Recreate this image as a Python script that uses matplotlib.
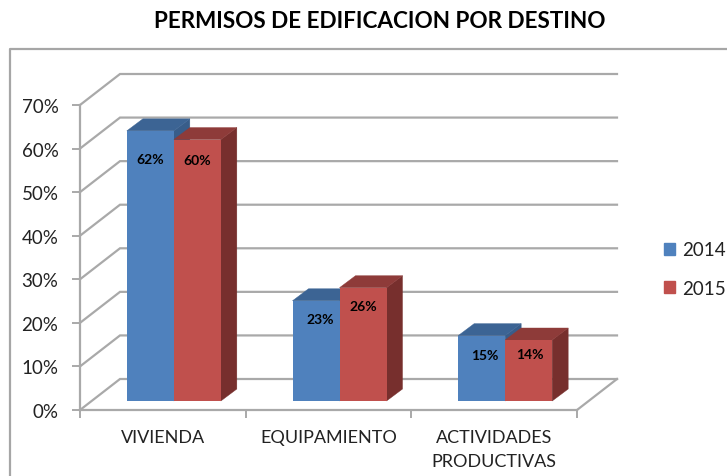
import numpy as np
import matplotlib
matplotlib.use("Agg")
import matplotlib.pyplot as plt
from matplotlib.lines import Line2D
from matplotlib.patches import Patch, Polygon

categories = ["VIVIENDA", "EQUIPAMIENTO", "ACTIVIDADES\nPRODUCTIVAS"]
years = ["2014", "2015"]
values_2014 = [62, 23, 15]
values_2015 = [60, 26, 14]
y_ticks = [0, 10, 20, 30, 40, 50, 60, 70]

plt.rcParams["font.family"] = "Lato"

W, H = 727, 477
fig = plt.figure(figsize=(W / 100, H / 100), dpi=100)
ax = fig.add_axes([80 / W, 1 - 411 / H, 497 / W, 305 / H])
ax.set_xlim(0, 3)
ax.set_ylim(0, 70)

# pixels to data units, the fake 3d is all offsets
px_x = 3 / 497
px_y = 70 / 305
wall_dx, wall_dy = 40 * px_x, 31 * px_y
base_dx, base_dy = 11 * px_x, 9 * px_y
depth_dx, depth_dy = 16 * px_x, 12 * px_y
bar_w = 47 * px_x

grid_c = "#a9a9a9"
text_c = "#222222"

# walls
for t in y_ticks:
    ax.plot([0, wall_dx, 3 + wall_dx], [t, t + wall_dy, t + wall_dy], color=grid_c, lw=1.6,
            clip_on=False, zorder=1, solid_joinstyle="miter")
ax.plot([3, 3 + wall_dx], [0, wall_dy], color=grid_c, lw=1.6, clip_on=False, zorder=1)


def draw_bars(centers, vals, face, top, side, z):
    ax.bar(centers, vals, bar_w, bottom=base_dy, color=face, zorder=z + 0.5)
    for c, v in zip(centers, vals):
        x0, x1 = c - bar_w / 2, c + bar_w / 2
        y1 = base_dy + v
        ax.add_patch(Polygon([(x0, y1), (x1, y1), (x1 + depth_dx, y1 + depth_dy), (x0 + depth_dx, y1 + depth_dy)],
                             closed=True, fc=top, ec=top, lw=0.3, zorder=z + 0.1, clip_on=False))
        ax.add_patch(Polygon([(x1, base_dy), (x1, y1), (x1 + depth_dx, y1 + depth_dy), (x1 + depth_dx, base_dy + depth_dy)],
                             closed=True, fc=side, ec=side, lw=0.3, zorder=z, clip_on=False))


x = np.arange(3) + 0.5 + base_dx
draw_bars(x - bar_w / 2, values_2014, "#4f81bd", "#3c6494", "#385d8a", 2)
# red comes second so it sits over the blue side
draw_bars(x + bar_w / 2, values_2015, "#c0504d", "#8e3b39", "#772f2d", 3)

# data labels, nudged by hand in pixels like the original
nudge_2014 = [(0, -28), (4, -18), (3, -19)]
nudge_2015 = [(0, -20), (0, -18), (1, -14)]
for c, v, n in zip(x - bar_w / 2, values_2014, nudge_2014):
    ax.annotate(f"{v}%", (c, base_dy + v), xytext=(n[0] * 0.72, n[1] * 0.72), textcoords="offset points",
                ha="center", va="center", fontsize=10, fontweight="bold", color="black", zorder=7)
for c, v, n in zip(x + bar_w / 2, values_2015, nudge_2015):
    ax.annotate(f"{v}%", (c, base_dy + v), xytext=(n[0] * 0.72, n[1] * 0.72), textcoords="offset points",
                ha="center", va="center", fontsize=10, fontweight="bold", color="black", zorder=7)

# axes
for s in ["top", "right"]:
    ax.spines[s].set_visible(False)
for s in ["left", "bottom"]:
    ax.spines[s].set_color(grid_c)
    ax.spines[s].set_linewidth(1.6)
ax.patch.set_alpha(0)
ax.set_yticks(y_ticks)
ax.set_yticklabels([f"{t}%" for t in y_ticks], fontsize=13.5, color=text_c)
ax.tick_params(axis="y", length=5.5, width=1.4, color=grid_c, pad=10)
ax.set_xticks([0, 1, 2, 3])
ax.set_xticklabels([])
ax.tick_params(axis="x", length=5.5, width=1.4, color=grid_c)
ax.set_xticks([0.5, 1.5, 2.5], minor=True)
ax.set_xticklabels(categories, minor=True, fontsize=13, color=text_c, linespacing=1.6)
ax.tick_params(axis="x", which="minor", length=0, pad=14)

handles = [Patch(color="#4f81bd", label=years[0]), Patch(color="#c0504d", label=years[1])]
fig.legend(handles=handles, loc="center left", bbox_to_anchor=(664 / W, 1 - 270 / H), frameon=False,
           fontsize=13.5, labelcolor=text_c, handlelength=0.6, handleheight=0.6, handletextpad=0.35,
           labelspacing=1.15, borderpad=0, borderaxespad=0)

fig.text(380 / W, 1 - 22 / H, "PERMISOS DE EDIFICACION POR DESTINO", ha="center", va="center",
         fontsize=16.2, fontweight="bold", color="black")

# chart frame, cut off by the crop on the right and bottom
fig.add_artist(Line2D([10 / W, 10 / W, 1], [0, 1 - 50 / H, 1 - 50 / H], color="#a6a6a6", lw=1.6))

fig.savefig("out.png", dpi=100)
